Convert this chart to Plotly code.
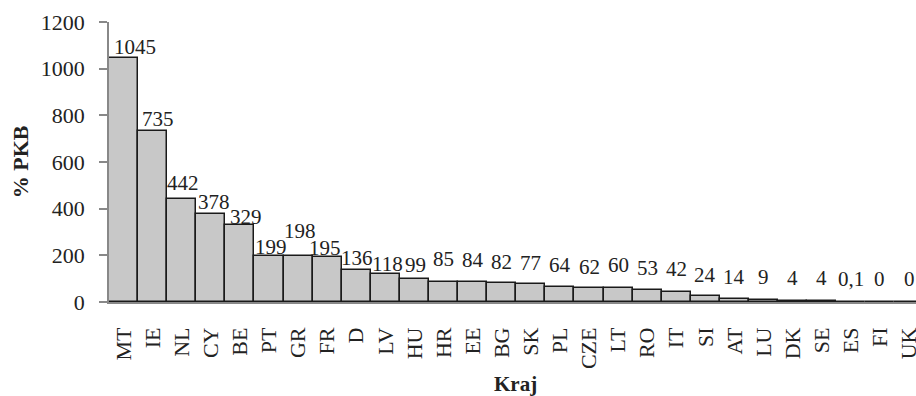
import plotly.graph_objects as go

countries = ["MT", "IE", "NL", "CY", "BE", "PT", "GR", "FR", "D", "LV", "HU", "HR", "EE", "BG",
             "SK", "PL", "CZE", "LT", "RO", "IT", "SI", "AT", "LU", "DK", "SE", "ES", "FI", "UK"]
values = [1045, 735, 442, 378, 329, 199, 198, 195, 136, 118, 99, 85, 84, 82,
          77, 64, 62, 60, 53, 42, 24, 14, 9, 4, 4, 0.1, 0, 0]
labels = ["1045", "735", "442", "378", "329", "199", "198", "195", "136", "118", "99", "85", "84", "82",
          "77", "64", "62", "60", "53", "42", "24", "14", "9", "4", "4", "0,1", "0", "0"]
y_ticks = [0, 200, 400, 600, 800, 1000, 1200]

# label placement style (pixel offsets of label centre from bar top / bar centre)
label_dy = [11, 12, 16, 12, 8, 9, 25, 9, 12, 10, 14, 23, 22, 21,
            21, 22, 21, 23, 22, 23, 21, 22, 23, 23, 23, 23, 23, 23]
label_dx = [11, 5, 1, 3, 6, 2, 2, -2, 1, 2, 1, 0, 0, 0,
            0, 0, 0, 0, 0, 0, 0, 0, 0, 0, 0, 0, 0, 0]

FONT = "Liberation Serif, Times New Roman, serif"

fig = go.Figure()
fig.add_trace(go.Bar(
    x=countries, y=values,
    marker=dict(color="#c8c8c8", line=dict(color="#1a1a1a", width=1.5)),
    hoverinfo="x+y",
))

for c, v, t, dy, dx in zip(countries, values, labels, label_dy, label_dx):
    fig.add_annotation(x=c, y=v, text=t, showarrow=False, xanchor="center", yanchor="middle",
                       yshift=dy, xshift=dx, font=dict(family=FONT, size=21, color="#222"))

fig.add_annotation(xref="paper", yref="paper", x=-0.110, y=0.5, text="<b>% PKB</b>", textangle=-90,
                   showarrow=False, xanchor="center", yanchor="middle",
                   font=dict(family=FONT, size=22, color="#222"))
fig.add_annotation(xref="paper", yref="paper", x=0.504, y=-0.293, text="<b>Kraj</b>",
                   showarrow=False, xanchor="center", yanchor="middle",
                   font=dict(family=FONT, size=21, color="#222"))

fig.update_layout(
    width=916, height=396,
    margin=dict(l=109, r=0, t=22, b=94, autoexpand=False),
    paper_bgcolor="white", plot_bgcolor="white",
    bargap=0, showlegend=False,
    font=dict(family=FONT, color="#222"),
)
fig.update_xaxes(
    type="category", range=[-0.5, 27.24], automargin=False,
    showline=True, linecolor="#888", linewidth=1.5,
    showgrid=False, ticks="", tickangle=-90,
    tickfont=dict(family=FONT, size=22, color="#222"),
    ticklabelstandoff=15,
)
fig.update_yaxes(
    range=[0, 1200], tickvals=y_ticks, automargin=False,
    showline=True, linecolor="#888", linewidth=1.5,
    showgrid=False, zeroline=False,
    ticks="outside", ticklen=8, tickcolor="#888", tickwidth=1.5,
    tickfont=dict(family=FONT, size=22, color="#222"),
    ticklabelstandoff=10,
)

fig.write_html("out.html", config={"displayModeBar": False},
               post_script="document.body.style.margin='0';document.body.style.overflow='hidden';")
